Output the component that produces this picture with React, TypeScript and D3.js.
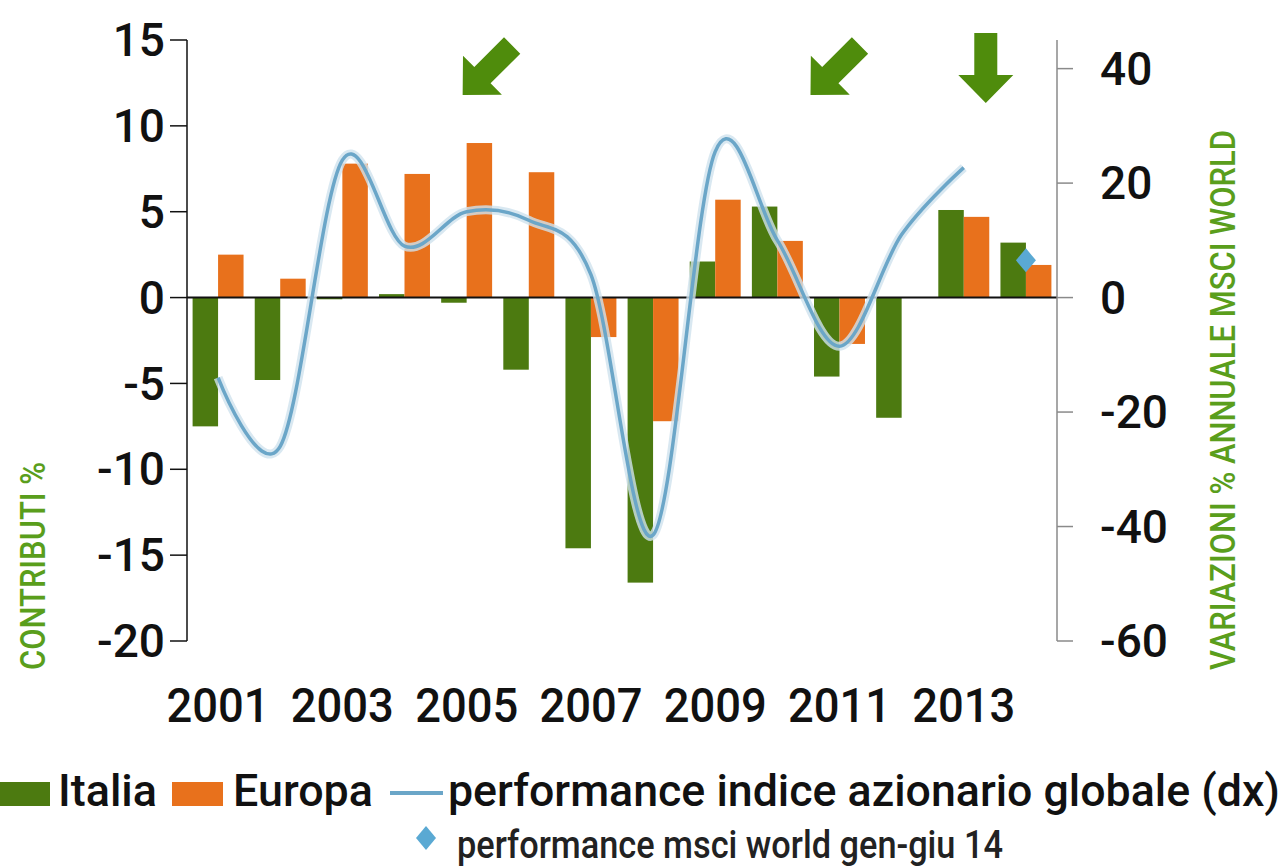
import React, { useRef, useEffect } from "react";
import * as d3 from "d3";

// dati
const years = ["2001", "2002", "2003", "2004", "2005", "2006", "2007", "2008", "2009", "2010", "2011", "2012", "2013", "2014"];
const yearLabels = ["2001", "2003", "2005", "2007", "2009", "2011", "2013"];
const italia = [-7.5, -4.8, -0.1, 0.2, -0.3, -4.2, -14.6, -16.6, 2.1, 5.3, -4.6, -7.0, 5.1, 3.2];
const europa: (number | null)[] = [2.5, 1.1, 7.8, 7.2, 9.0, 7.3, -2.3, -7.2, 5.7, 3.3, -2.7, null, 4.7, 1.9];
const msciYears = ["2001", "2002", "2003", "2004", "2005", "2006", "2007", "2008", "2009", "2010", "2011", "2012", "2013"];
const msci = [-14, -26, 24, 9, 15, 13.5, 4, -41.5, 25.5, 10, -8.5, 11, 22.7];
const msciYtdYear = "2014";
const msciYtd = 6.5;
const leftTicks = [15, 10, 5, 0, -5, -10, -15, -20];
const rightTicks = [40, 20, 0, -20, -40, -60];
const arrows = [
  { year: "2005", dx: -4, angle: 45 },
  { year: "2011", dx: -29, angle: 45 },
  { year: "2013", dx: 22, angle: 0 },
];

const GREEN = "#4c7a10";
const ORANGE = "#e8711c";
const LINE = "#6ba6c8";
const ARROW = "#4f8c0c";
const TITLE = "#5a9e1c";
const FONT = "Roboto, 'Liberation Sans', Arial, sans-serif";

const App = () => {
  const ref = useRef<SVGSVGElement>(null);

  useEffect(() => {
    if (!ref.current) return;
    const svg = d3.select(ref.current);
    svg.selectAll("*").remove();

    const left = 187,
      right = 1057,
      top = 40,
      bottom = 641;

    const x0 = d3.scaleBand().domain(years).range([left, right]).paddingInner(0.18).paddingOuter(0.09);
    const x1 = d3.scaleBand().domain(["italia", "europa"]).range([0, x0.bandwidth()]);
    const yL = d3.scaleLinear().domain([-20, 15]).range([bottom, top]);
    const yR = d3.scaleLinear().domain([-60, 45]).range([bottom, top]);
    const cx = (y: string) => (x0(y) as number) + x0.bandwidth() / 2;

    // barre
    const g = svg.append("g");
    g.selectAll("rect.it")
      .data(italia)
      .enter()
      .append("rect")
      .attr("x", (d, i) => (x0(years[i]) as number) + (x1("italia") as number))
      .attr("y", (d) => yL(Math.max(0, d)))
      .attr("width", x1.bandwidth())
      .attr("height", (d) => Math.abs(yL(d) - yL(0)))
      .attr("fill", GREEN);
    g.selectAll("rect.eu")
      .data(europa.map((v, i) => ({ v, y: years[i] })).filter((d) => d.v !== null))
      .enter()
      .append("rect")
      .attr("x", (d) => (x0(d.y) as number) + (x1("europa") as number))
      .attr("y", (d) => yL(Math.max(0, d.v as number)))
      .attr("width", x1.bandwidth())
      .attr("height", (d) => Math.abs(yL(d.v as number) - yL(0)))
      .attr("fill", ORANGE);

    // linea zero
    svg.append("line")
      .attr("x1", left).attr("x2", right)
      .attr("y1", yL(0)).attr("y2", yL(0))
      .attr("stroke", "#111").attr("stroke-width", 2);

    // linea performance (smussata)
    const line = d3
      .line<number>()
      .x((d, i) => cx(msciYears[i]))
      .y((d) => yR(d))
      .curve(d3.curveCardinal.tension(0));
    svg.append("path")
      .attr("d", line(msci))
      .attr("fill", "none")
      .attr("stroke", "#cfe2ee")
      .attr("stroke-width", 9)
      .attr("stroke-opacity", 0.8);
    svg.append("path")
      .attr("d", line(msci))
      .attr("fill", "none")
      .attr("stroke", LINE)
      .attr("stroke-width", 3.5);

    // punto gen-giu 14
    svg.append("path")
      .attr("d", "M0,-12L10,0L0,12L-10,0Z")
      .attr("transform", `translate(${cx(msciYtdYear)},${yR(msciYtd)})`)
      .attr("fill", "#5aa9d3");

    // asse sinistro
    svg.append("line")
      .attr("x1", left).attr("x2", left).attr("y1", top).attr("y2", bottom)
      .attr("stroke", "#111").attr("stroke-width", 1.5);
    leftTicks.forEach((t) => {
      svg.append("line")
        .attr("x1", left - 17).attr("x2", left).attr("y1", yL(t)).attr("y2", yL(t))
        .attr("stroke", "#111").attr("stroke-width", 1.5);
      svg.append("text")
        .attr("x", 165).attr("y", yL(t)).attr("dy", "0.35em")
        .attr("text-anchor", "end")
        .style("font-family", FONT).style("font-size", "46px").style("font-weight", 500).attr("fill", "#111")
        .text(t);
    });

    // asse destro
    svg.append("line")
      .attr("x1", right).attr("x2", right).attr("y1", top).attr("y2", bottom)
      .attr("stroke", "#8a8a8a").attr("stroke-width", 1.5);
    rightTicks.forEach((t) => {
      svg.append("line")
        .attr("x1", right).attr("x2", right + 16).attr("y1", yR(t)).attr("y2", yR(t))
        .attr("stroke", "#8a8a8a").attr("stroke-width", 1.5);
      svg.append("text")
        .attr("x", 1100).attr("y", yR(t)).attr("dy", "0.35em")
        .attr("text-anchor", "start")
        .style("font-family", FONT).style("font-size", "46px").style("font-weight", 500).attr("fill", "#111")
        .text(t);
    });

    // anni
    yearLabels.forEach((y) => {
      svg.append("text")
        .attr("x", cx(y)).attr("y", 722)
        .attr("text-anchor", "middle")
        .attr("textLength", 103).attr("lengthAdjust", "spacingAndGlyphs")
        .style("font-family", FONT).style("font-size", "48px").style("font-weight", 500).attr("fill", "#111")
        .text(y);
    });

    // titoli assi
    svg.append("text")
      .attr("transform", "translate(45,670) rotate(-90)")
      .attr("textLength", 208).attr("lengthAdjust", "spacingAndGlyphs")
      .style("font-family", FONT).style("font-size", "35px").style("font-weight", 500).attr("fill", TITLE)
      .text("CONTRIBUTI %");
    svg.append("text")
      .attr("transform", "translate(1235,670) rotate(-90)")
      .attr("textLength", 540).attr("lengthAdjust", "spacingAndGlyphs")
      .style("font-family", FONT).style("font-size", "35px").style("font-weight", 500).attr("fill", TITLE)
      .text("VARIAZIONI % ANNUALE MSCI WORLD");

    // frecce
    arrows.forEach((a) => {
      svg.append("path")
        .attr("d", "M-11.5,-70L11.5,-70L11.5,-28L27.5,-28L0,0L-27.5,-28L-11.5,-28Z")
        .attr("transform", `translate(${cx(a.year) + a.dx},${a.angle ? 95 : 103}) rotate(${a.angle})`)
        .attr("fill", ARROW);
    });

    // legenda
    const leg = svg.append("g").style("font-family", FONT).style("font-weight", 500).attr("fill", "#111");
    leg.append("rect").attr("x", 0).attr("y", 782).attr("width", 50).attr("height", 24).attr("fill", GREEN);
    leg.append("text").attr("x", 58).attr("y", 806)
      .attr("textLength", 99).attr("lengthAdjust", "spacingAndGlyphs")
      .style("font-size", "45px").text("Italia");
    leg.append("rect").attr("x", 172).attr("y", 782).attr("width", 51).attr("height", 24).attr("fill", ORANGE);
    leg.append("text").attr("x", 233).attr("y", 806)
      .attr("textLength", 140).attr("lengthAdjust", "spacingAndGlyphs")
      .style("font-size", "45px").text("Europa");
    leg.append("line").attr("x1", 390).attr("x2", 443).attr("y1", 793).attr("y2", 793)
      .attr("stroke", LINE).attr("stroke-width", 4);
    leg.append("text").attr("x", 448).attr("y", 806)
      .attr("textLength", 832).attr("lengthAdjust", "spacingAndGlyphs")
      .style("font-size", "45px").text("performance indice azionario globale (dx)");
    leg.append("path").attr("d", "M0,-12L10,0L0,12L-10,0Z")
      .attr("transform", "translate(426,838)").attr("fill", "#5aa9d3");
    leg.append("text").attr("x", 457).attr("y", 858)
      .attr("textLength", 546).attr("lengthAdjust", "spacingAndGlyphs")
      .style("font-size", "38px").attr("fill", "#222").text("performance msci world gen-giu 14");
  }, []);

  return (
    <svg
      ref={ref}
      width={1286}
      height={868}
      style={{ position: "absolute", left: 0, top: 0, background: "#fff" }}
    />
  );
};

export default App;
